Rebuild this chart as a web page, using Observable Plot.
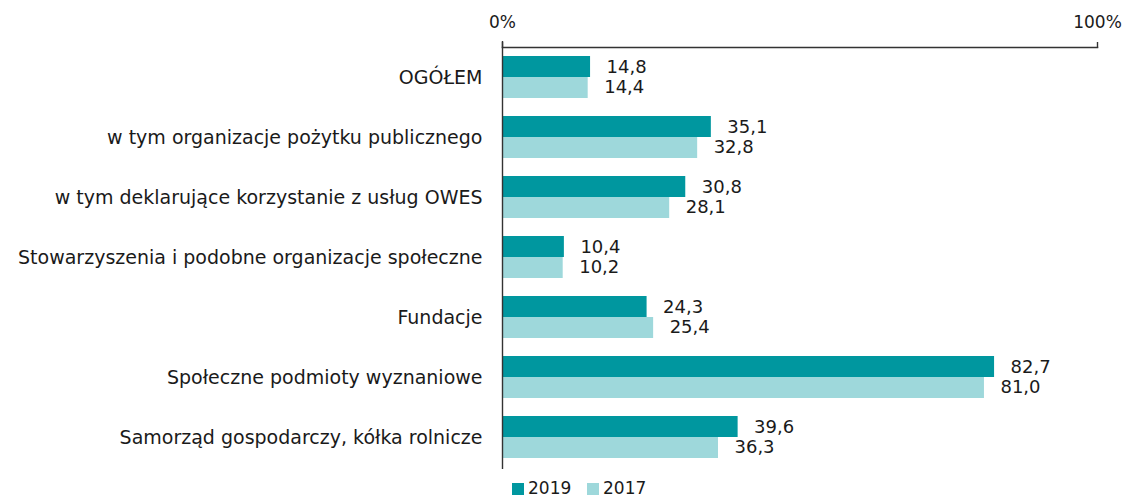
<!DOCTYPE html>
<html>
<head>
<meta charset="utf-8">
<script src="https://cdn.jsdelivr.net/npm/d3@7"></script>
<script src="https://cdn.jsdelivr.net/npm/@observablehq/plot@0.6"></script>
<style>
  html, body { margin: 0; padding: 0; background: #fff; }
  body { width: 1132px; height: 499px; overflow: hidden; font-family: "DejaVu Sans", sans-serif; color: #1a1a1a; }
  #legend { position: relative; height: 21px; font-size: 17px; line-height: 21px; }
  .item { position: absolute; top: 0; display: flex; align-items: center; }
  .sw { width: 12px; height: 12px; display: inline-block; margin-right: 4px; }
</style>
</head>
<body>
<div id="chart"></div>
<div id="legend"></div>
<script>
const categories = [
  "OGÓŁEM",
  "w tym organizacje pożytku publicznego",
  "w tym deklarujące korzystanie z usług OWES",
  "Stowarzyszenia i podobne organizacje społeczne",
  "Fundacje",
  "Społeczne podmioty wyznaniowe",
  "Samorząd gospodarczy, kółka rolnicze"
];
const values2019 = [14.8, 35.1, 30.8, 10.4, 24.3, 82.7, 39.6];
const values2017 = [14.4, 32.8, 28.1, 10.2, 25.4, 81.0, 36.3];
const seriesNames = ["2019", "2017"];
const seriesColors = ["#00979f", "#9ed8db"];
const xTicks = [0, 100];

const fmt = v => v.toFixed(1).replace(".", ",");
const d19 = categories.map((c, i) => ({category: c, value: values2019[i]}));
const d17 = categories.map((c, i) => ({category: c, value: values2017[i]}));

const half = 21;
const chart = Plot.plot({
  width: 1132,
  height: 478,
  marginTop: 47,
  marginBottom: 11,
  marginLeft: 502,
  marginRight: 35,
  style: {fontFamily: "DejaVu Sans, sans-serif", fontSize: "17px", color: "#1a1a1a", background: "#fff"},
  x: {domain: [0, 100]},
  y: {domain: categories, paddingInner: 0.3, paddingOuter: 0.15},
  marks: [
    Plot.barX(d19, {x: "value", y: "category", fill: seriesColors[0], insetBottom: half}),
    Plot.barX(d17, {x: "value", y: "category", fill: seriesColors[1], insetTop: half}),
    Plot.text(d19, {x: "value", y: "category", text: d => fmt(d.value), dx: 16, dy: -10, textAnchor: "start", fill: "#1a1a1a", fontSize: 18}),
    Plot.text(d17, {x: "value", y: "category", text: d => fmt(d.value), dx: 16, dy: 10, textAnchor: "start", fill: "#1a1a1a", fontSize: 18}),
    Plot.axisY({tickSize: 0, tickPadding: 20, fontSize: 19, label: null}),
    Plot.axisX({anchor: "top", ticks: xTicks, tickFormat: d => d + "%", tickSize: 6, tickPadding: 14, fontSize: 17, label: null, stroke: "#333", strokeWidth: 1.4}),
    Plot.frame({anchor: "top", stroke: "#333", strokeWidth: 1.4}),
    Plot.ruleX([0], {stroke: "#333", strokeWidth: 1.4, insetTop: -6, insetBottom: -2})
  ]
});
document.getElementById("chart").appendChild(chart);

const legend = document.getElementById("legend");
const lx = [512, 587];
seriesNames.forEach((n, i) => {
  const it = document.createElement("div");
  it.className = "item";
  it.style.left = lx[i] + "px";
  const sw = document.createElement("span");
  sw.className = "sw";
  sw.style.background = seriesColors[i];
  it.appendChild(sw);
  it.appendChild(document.createTextNode(n));
  legend.appendChild(it);
});
</script>
</body>
</html>
